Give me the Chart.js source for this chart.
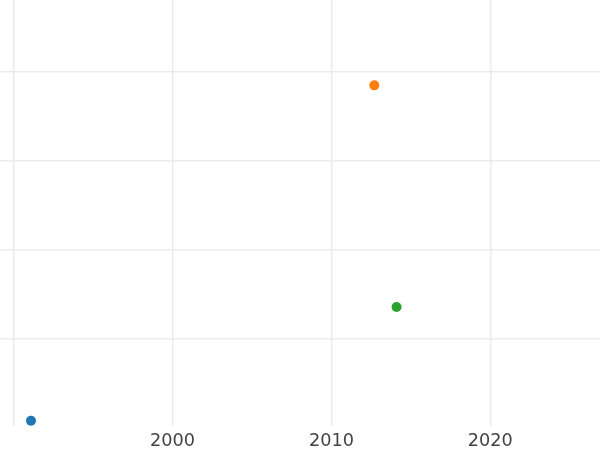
<!DOCTYPE html>
<html>
<head>
<meta charset="utf-8">
<script src="https://cdn.jsdelivr.net/npm/chart.js@4/dist/chart.umd.min.js"></script>
<style>
  html, body { margin: 0; padding: 0; background: #fff; }
</style>
</head>
<body>
<canvas id="scatterChart" width="600" height="450"></canvas>
<script>
// data
var years = [1991.1, 2012.7, 2014.1];
var values = [0.08, 3.85, 1.36];
var colors = ['#1f77b4', '#ff7f0e', '#2ca02c'];
var xTicks = [1990, 2000, 2010, 2020];
var yTicks = [1, 2, 3, 4];

var datasets = years.map(function (yr, i) {
    return {
        data: [{ x: yr, y: values[i] }],
        backgroundColor: colors[i],
        borderColor: colors[i],
        pointRadius: 5,
        pointBorderWidth: 0
    };
});

var ctx = document.getElementById('scatterChart').getContext('2d');
var chart = new Chart(ctx, {
    type: 'scatter',
    data: { datasets: datasets },
    options: {
        responsive: false,
        animation: false,
        layout: { padding: 0, autoPadding: false },
        plugins: { legend: { display: false }, tooltip: { enabled: false } },
        scales: {
            x: {
                type: 'linear',
                min: 1989.15,
                max: 2026.9,
                afterBuildTicks: function (axis) {
                    axis.ticks = xTicks.map(function (v) { return { value: v }; });
                },
                afterFit: function (axis) { axis.height = 24; },
                grid: { color: '#ebebeb', lineWidth: 1.5, drawTicks: false },
                border: { display: false },
                ticks: {
                    padding: 5,
                    color: '#444',
                    font: { family: 'DejaVu Sans', size: 17.7 },
                    callback: function (v) { return v === 1990 ? '' : String(v); }
                }
            },
            y: {
                min: 0.022,
                max: 4.809,
                afterBuildTicks: function (axis) {
                    axis.ticks = yTicks.map(function (v) { return { value: v }; });
                },
                grid: { color: '#ebebeb', lineWidth: 1.5, drawTicks: false },
                border: { display: false },
                ticks: { display: false }
            }
        }
    }
});
</script>
</body>
</html>
